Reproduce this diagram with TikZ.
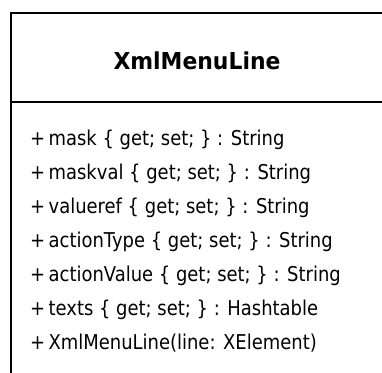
\documentclass[tikz,border=0pt]{standalone}
\usepackage{fontspec}
\newfontfamily\uifont[FakeStretch=0.88]{DejaVu Sans}
\newfontfamily\uifontb[FakeStretch=0.94]{DejaVu Sans Bold}
\begin{document}
\begin{tikzpicture}[x=1pt,y=-1pt,
  boxline/.style={draw=black, line width=1.6pt},
  attr/.style={anchor=base west, inner sep=0pt, font=\uifont\fontsize{20.4}{24}\selectfont},
  titlestyle/.style={anchor=base, inner sep=0pt, font=\uifontb\fontsize{23.3}{28}\selectfont}]
\useasboundingbox (0,0) rectangle (382,372);
\clip (0,0) rectangle (382,372);
\fill[white] (0,0) rectangle (382,372);
\draw[boxline] (11,13) rectangle (430,430);
\draw[boxline] (11,102) -- (430,102);
\node[titlestyle] (title) at (197,69) {XmlMenuLine};
\node[attr] (a1) at (30,145) {+\,mask \{ get; set; \} : String};
\node[attr] (a2) at (30,179) {+\,maskval \{ get; set; \} : String};
\node[attr] (a3) at (30,213) {+\,valueref \{ get; set; \} : String};
\node[attr] (a4) at (30,247) {+\,actionType \{ get; set; \} : String};
\node[attr] (a5) at (30,281) {+\,actionValue \{ get; set; \} : String};
\node[attr] (a6) at (30,315) {+\,texts \{ get; set; \} : Hashtable};
\node[attr] (a7) at (30,349) {+\,XmlMenuLine(line: XElement)};
\end{tikzpicture}
\end{document}
